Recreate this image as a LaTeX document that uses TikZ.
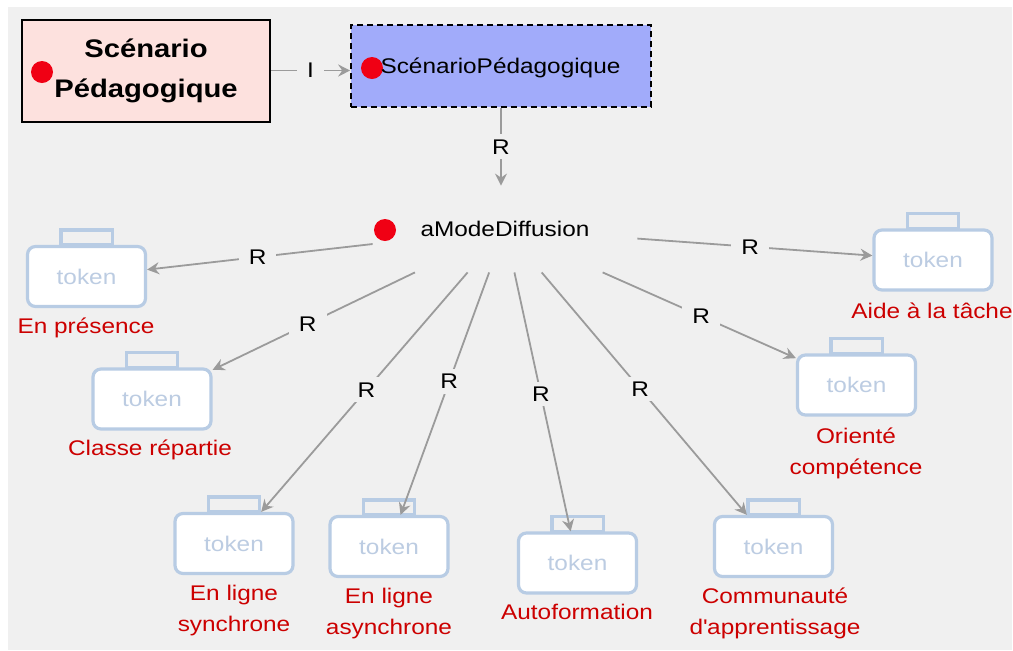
\documentclass[tikz,border=0pt]{standalone}
\usepackage{fontspec}
\setmainfont{Liberation Sans}[FakeStretch=1.15]
\usetikzlibrary{arrows.meta,positioning}

\definecolor{bggray}{RGB}{240,240,240}
\definecolor{pinkfill}{RGB}{253,225,222}
\definecolor{bluefill}{RGB}{161,171,250}
\definecolor{dotred}{RGB}{240,0,20}
\definecolor{labred}{RGB}{204,0,0}
\definecolor{edgegray}{RGB}{155,155,155}
\definecolor{tokblue}{RGB}{184,204,228}
\definecolor{toktext}{RGB}{188,204,226}

\tikzset{
  dot/.style={circle,fill=dotred,minimum size=11pt,inner sep=0pt},
  tokbody/.style={draw=tokblue,line width=1.6pt,fill=white,rounded corners=4pt,
    minimum width=59pt,minimum height=30pt,text=toktext},
  tokline/.style={draw=tokblue,line width=1.6pt},
  tokname/.style={text=labred,align=center,inner sep=0pt},
  rel/.style={draw=edgegray,line width=0.9pt,-{Stealth[length=6pt,width=6pt,inset=2pt]}},
  rlab/.style={fill=bggray,inner xsep=5pt,inner ysep=2.5pt},
}

\begin{document}
\begin{tikzpicture}[x=0.5pt,y=-0.5pt,font=\fontsize{10.6}{15.5}\selectfont]
\useasboundingbox (0,0) rectangle (1013,650);
\fill[bggray] (8,7) rectangle (1012,650);

% top boxes
\node[draw=black,line width=1pt,fill=pinkfill,minimum width=124pt,minimum height=51pt,
  align=center,font=\bfseries\fontsize{12.7}{20}\selectfont] (scen) at (146,70.5) {Scénario\\Pédagogique};
\node[dot] (scendot) at (42,72) {};
\node[draw=black,dashed,dash pattern=on 3pt off 2pt,line width=0.8pt,fill=bluefill,
  minimum width=150pt,minimum height=41pt] (sped) at (501,66) {};
\node[dot] (speddot) at (372,68) {};
\node (spedtext) at (500.5,68) {ScénarioPédagogique};

\draw[rel] (scen.east) -- node[rlab]{I} (scen.east -| sped.west);

% mode node
\node[minimum width=132pt,minimum height=43pt] (mode) at (505,229) {aModeDiffusion};
\node[dot] (modedot) at (385,230) {};
\draw[rel] (sped.south) -- node[rlab]{R} (sped.south |- mode.north);

% tokens
\foreach \nm/\x/\y/\lx/\ly/\txt/\p in {
  pres/86.5/276.5/86/328/{En présence}/0.51,
  clas/152/399/150/450/{Classe répartie}/0.53,
  sync/234/543.5/234/611/{En ligne\\synchrone}/0.49,
  async/389/546.5/389/614/{En ligne\\asynchrone}/0.45,
  auto/577.5/563/577/612/{Autoformation}/0.47,
  comm/773.5/546.5/775/613/{Communauté\\d\textquotesingle apprentissage}/0.48,
  orie/856.5/385/856/453/{Orienté\\compétence}/0.51,
  aide/933/260/932/311/{Aide à la tâche}/0.48}
{
  \node[tokbody] (\nm) at (\x,\y) {token};
  \draw[tokline] ([xshift=-12.8pt]\nm.north) rectangle ([xshift=12.8pt,yshift=7.5pt]\nm.north);
  \node[tokname] (\nm name) at (\lx,\ly) {\txt};
  \draw[rel] (mode) -- node[rlab,pos=\p]{R} (\nm);
}
\end{tikzpicture}
\end{document}
